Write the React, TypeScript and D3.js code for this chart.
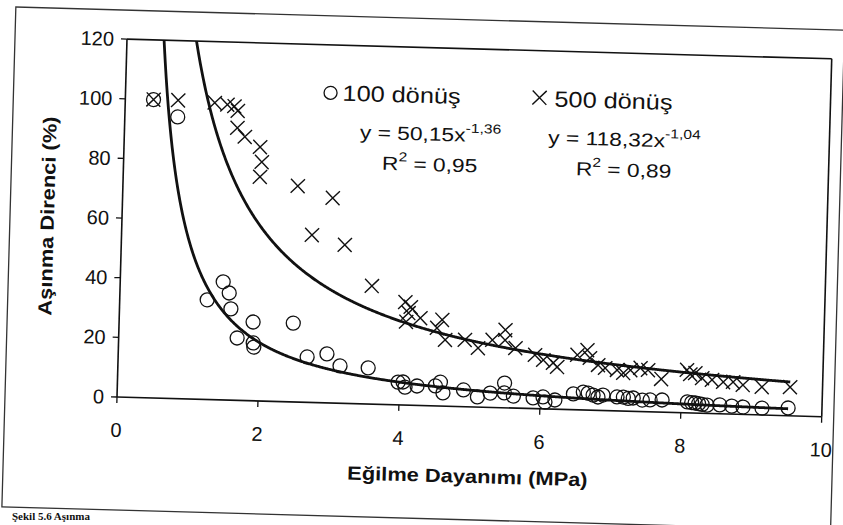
import React from 'react';
import * as d3 from 'd3';

const xTicks = [0, 2, 4, 6, 8, 10];
const yTicks = [0, 20, 40, 60, 80, 100, 120];

// 100 dönüş (circles)
const s100X = [0.4, 0.75, 1.24, 1.46, 1.55, 1.58, 1.68, 1.9, 1.91, 1.92, 2.47, 2.68, 2.96, 3.15, 3.55, 3.98, 4.05, 4.08, 4.25, 4.51, 4.58, 4.62, 4.91, 5.11, 5.29, 5.49, 5.49, 5.62, 5.9, 6.04, 6.07, 6.21, 6.47, 6.61, 6.68, 6.75, 6.82, 6.89, 7.09, 7.18, 7.25, 7.32, 7.45, 7.56, 7.73, 8.09, 8.15, 8.2, 8.25, 8.3, 8.37, 8.55, 8.72, 8.88, 9.15, 9.52];
const s100Y = [100, 94.4, 33.4, 39.6, 35.9, 30.6, 20.9, 26.4, 19.4, 18.0, 26.4, 15.2, 16.4, 12.5, 12.1, 7.6, 7.7, 6.0, 6.5, 6.7, 8.0, 4.4, 5.6, 3.4, 4.8, 8.3, 5.0, 4.0, 3.6, 4.0, 2.3, 3.1, 5.3, 6.0, 5.7, 5.1, 4.5, 5.2, 4.7, 4.7, 4.3, 4.5, 3.9, 4.0, 4.1, 3.7, 3.5, 3.4, 3.2, 3.0, 2.8, 3.0, 2.7, 2.5, 2.3, 2.6];

// 500 dönüş (crosses)
const s500X = [0.4, 0.75, 1.27, 1.45, 1.55, 1.6, 1.6, 1.71, 1.93, 1.96, 1.94, 2.48, 2.98, 2.7, 3.17, 3.57, 4.05, 4.13, 4.1, 4.27, 4.07, 4.58, 4.51, 4.63, 4.91, 5.1, 5.3, 5.48, 5.48, 5.63, 5.91, 6.03, 6.17, 6.23, 6.51, 6.65, 6.69, 6.81, 6.91, 7.08, 7.17, 7.27, 7.41, 7.52, 7.71, 8.07, 8.12, 8.19, 8.29, 8.43, 8.59, 8.73, 8.87, 9.14, 9.54];
const s500Y = [100, 100, 99.5, 99, 98.5, 97, 91.3, 88.4, 85.1, 80.1, 75.1, 72.4, 68.7, 56.1, 53.1, 39.6, 34.5, 32.9, 30.9, 29.3, 27.9, 28.9, 26.1, 22.2, 22.4, 19.8, 22.6, 26.1, 22.7, 20.1, 18.0, 16.4, 15.5, 14.2, 18.4, 20.1, 17.5, 15.2, 14.3, 13.7, 12.8, 13.8, 14.6, 14.0, 11.1, 14.4, 13.0, 13.4, 11.8, 11.3, 10.7, 10.8, 9.9, 9.4, 9.6];

const fit100 = { a: 50.15, b: -1.36 };
const fit500 = { a: 118.32, b: -1.04 };

const legend100 = '100 dönüş';
const legend500 = '500 dönüş';
const eq100 = { main: 'y = 50,15x', sup: '-1,36', r2: ' = 0,95' };
const eq500 = { main: 'y = 118,32x', sup: '-1,04', r2: ' = 0,89' };
const xTitle = 'Eğilme Dayanımı (MPa)';
const yTitle = 'Aşınma Direnci (%)';
const caption = 'Şekil 5.6 Aşınma';

const W = 843;
const H = 525;
const plot = { left: 117, top: 39, right: 822, bottom: 397 };
const tilt = 1.6;
const ink = '#111';
const FONT = '"Liberation Sans", Arial, Helvetica, sans-serif';

export default function App() {
  const x = d3.scaleLinear().domain([0, 10]).range([plot.left, plot.right]);
  const y = d3.scaleLinear().domain([0, 120]).range([plot.bottom, plot.top]);
  const line = d3.line<[number, number]>().x(d => x(d[0])).y(d => y(d[1]));

  const trend = (fit: { a: number; b: number }, xs: number[]) => {
    const [lo, hi] = d3.extent(xs) as [number, number];
    const n = 900;
    const pts: [number, number][] = d3.range(n + 1).map(i => {
      const xv = lo + ((hi - lo) * i) / n;
      return [xv, Math.min(fit.a * Math.pow(xv, fit.b), 400)];
    });
    return line(pts) || '';
  };

  const r = 7;
  const c = 7;
  const sx = 1.15;

  return (
    <svg width={W} height={H} style={{ position: 'absolute', left: 0, top: 0, background: '#fff' }}
      fontFamily={FONT}>
      <defs>
        <clipPath id="plotClip">
          <rect x={plot.left} y={plot.top} width={plot.right - plot.left} height={plot.bottom - plot.top} />
        </clipPath>
      </defs>
      <rect x={0} y={0} width={W} height={H} fill="#fff" />
      <g transform={`rotate(${tilt}, ${plot.left}, ${plot.bottom})`}>
        {/* outer frame */}
        <rect x={5} y={10} width={829} height={500} fill="none" stroke="#333" strokeWidth={1.3} />

        {/* plot border */}
        <line x1={plot.left} y1={plot.top} x2={plot.right} y2={plot.top} stroke={ink} strokeWidth={1.6} />
        <line x1={plot.right} y1={plot.top} x2={plot.right} y2={plot.bottom} stroke={ink} strokeWidth={1.6} />
        {/* axes */}
        <line x1={plot.left} y1={plot.top} x2={plot.left} y2={plot.bottom} stroke={ink} strokeWidth={1.6} />
        <line x1={plot.left} y1={plot.bottom} x2={plot.right} y2={plot.bottom} stroke={ink} strokeWidth={1.6} />

        {yTicks.map(t => (
          <g key={'y' + t}>
            <line x1={plot.left - 6} x2={plot.left} y1={y(t)} y2={y(t)} stroke={ink} strokeWidth={1.3} />
            <text x={plot.left - 13} y={y(t) + 7} textAnchor="end" fontSize={20} fill={ink}>{t}</text>
          </g>
        ))}
        {xTicks.map(t => (
          <g key={'x' + t}>
            <line x1={x(t)} x2={x(t)} y1={plot.bottom} y2={plot.bottom + 6} stroke={ink} strokeWidth={1.3} />
            <text x={x(t)} y={plot.bottom + 40} textAnchor="middle" fontSize={20} fill={ink}>{t}</text>
          </g>
        ))}

        {/* axis titles */}
        <g transform={`translate(${(plot.left + plot.right) / 2}, 473) scale(${sx},1)`}>
          <text x={0} y={0} textAnchor="middle" fontSize={19} fontWeight="bold" fill={ink}>{xTitle}</text>
        </g>
        <g transform={`translate(49, 218) rotate(-90) scale(${sx},1)`}>
          <text x={0} y={0} textAnchor="middle" fontSize={19} fontWeight="bold" fill={ink}>{yTitle}</text>
        </g>

        {/* trendlines */}
        <g clipPath="url(#plotClip)">
          <path d={trend(fit100, s100X)} fill="none" stroke={ink} strokeWidth={2.8} />
          <path d={trend(fit500, s500X)} fill="none" stroke={ink} strokeWidth={2.8} />
        </g>

        {/* 100 dönüş circles */}
        {s100X.map((xv, i) => (
          <circle key={'c' + i} cx={x(xv)} cy={y(s100Y[i])} r={r} fill="none" stroke={ink} strokeWidth={1.3} />
        ))}
        {/* 500 dönüş crosses */}
        {s500X.map((xv, i) => {
          const px = x(xv), py = y(s500Y[i]);
          return (
            <path key={'x' + i} d={`M${px - c},${py - c}L${px + c},${py + c}M${px - c},${py + c}L${px + c},${py - c}`}
              stroke={ink} strokeWidth={1.4} fill="none" />
          );
        })}

        {/* legend */}
        <circle cx={322} cy={87} r={6.5} fill="none" stroke={ink} strokeWidth={1.3} />
        <g transform={`translate(334, 94.5) scale(${sx},1)`}>
          <text x={0} y={0} fontSize={22} fill={ink}>{legend100}</text>
        </g>
        <path d={`M${531 - 7},${86 - 7}L${531 + 7},${86 + 7}M${531 - 7},${86 + 7}L${531 + 7},${86 - 7}`}
          stroke={ink} strokeWidth={1.4} />
        <g transform={`translate(546, 94.5) scale(${sx},1)`}>
          <text x={0} y={0} fontSize={22} fill={ink}>{legend500}</text>
        </g>

        {/* equations */}
        <g transform={`translate(423, 132) scale(1.2,1)`}>
          <text x={0} y={0} textAnchor="middle" fontSize={19} fill={ink}>
            {eq100.main}<tspan fontSize={13} dy={-9}>{eq100.sup}</tspan>
          </text>
        </g>
        <g transform={`translate(423, 162.5) scale(1.2,1)`}>
          <text x={0} y={0} textAnchor="middle" fontSize={19} fill={ink}>
            R<tspan fontSize={13} dy={-9}>2</tspan><tspan dy={9}>{eq100.r2}</tspan>
          </text>
        </g>
        <g transform={`translate(617, 132) scale(1.2,1)`}>
          <text x={0} y={0} textAnchor="middle" fontSize={19} fill={ink}>
            {eq500.main}<tspan fontSize={13} dy={-9}>{eq500.sup}</tspan>
          </text>
        </g>
        <g transform={`translate(617, 162.5) scale(1.2,1)`}>
          <text x={0} y={0} textAnchor="middle" fontSize={19} fill={ink}>
            R<tspan fontSize={13} dy={-9}>2</tspan><tspan dy={9}>{eq500.r2}</tspan>
          </text>
        </g>
      </g>

      {/* caption under the frame */}
      <text x={12} y={520} fontSize={11} fontWeight="bold" fontFamily='"Liberation Serif", "DejaVu Serif", serif' fill={ink}>{caption}</text>
    </svg>
  );
}
